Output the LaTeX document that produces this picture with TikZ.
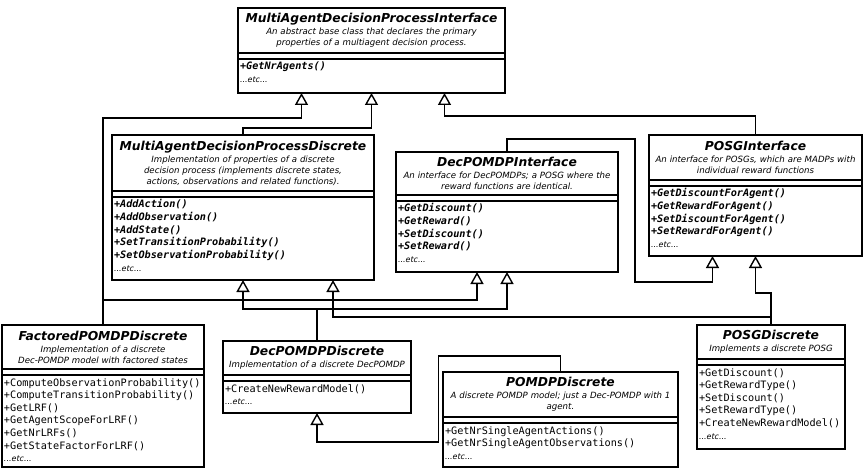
\documentclass[tikz,border=0pt]{standalone}
\usepackage{fontspec}
\setmainfont{DejaVu Sans}[ItalicFont={DejaVu Sans Oblique},BoldFont={DejaVu Sans Bold},BoldItalicFont={DejaVu Sans Bold Oblique}]
\setmonofont{DejaVu Sans Mono}[ItalicFont={DejaVu Sans Mono Oblique},BoldFont={DejaVu Sans Mono Bold},BoldItalicFont={DejaVu Sans Mono Bold Oblique}]
\usetikzlibrary{positioning,arrows.meta}
\newcommand{\clsname}[1]{{\bfseries\fontsize{12.3}{14}\selectfont #1}}
\newcommand{\etcline}{{\rmfamily\mdseries\itshape\fontsize{8}{12.6}\selectfont ...etc...}}
\begin{document}
\begin{tikzpicture}[x=1pt, y=-1pt,
    ctitle/.style={draw, line width=2pt, minimum width=#1, text width=#1-4pt, inner xsep=2pt, inner ysep=2pt, outer sep=0pt, align=center, font=\itshape\fontsize{8.6}{11}\selectfont},
    cattr/.style={draw, line width=2pt, minimum width=#1, minimum height=6pt, inner sep=0pt, outer sep=0pt},
    cmeth/.style={draw, line width=2pt, minimum width=#1, text width=#1-4pt, inner xsep=2pt, inner ysep=3pt, outer sep=0pt, align=left, text height=8pt, font=\ttfamily\fontsize{10.2}{12.6}\selectfont},
    cabstr/.style={cmeth=#1, font=\ttfamily\bfseries\itshape\fontsize{10.2}{12.6}\selectfont},
    isa/.style={line width=1.4pt, -{Triangle[length=12pt, width=13pt, fill=white]}}]
    \useasboundingbox (0,0) rectangle (864,470);
    % Root interface
    \node[ctitle=267pt, minimum height=45pt, anchor=north west] (madpi) at (238,8)
      {\clsname{MultiAgentDecisionProcessInterface}\\[1pt]
       An abstract base class that declares the primary\\
       properties of a multiagent decision process.};
    \node[cattr=267pt, below=0pt of madpi] (madpi-a) {};
    \node[cabstr=267pt, text depth=20pt, below=0pt of madpi-a] (madpi-m)
      {+GetNrAgents()\\ \etcline};
    % Second row
    \node[ctitle=262pt, minimum height=56pt, anchor=north west] (madpd) at (112,135)
      {\clsname{MultiAgentDecisionProcessDiscrete}\\[1pt]
       Implementation of properties of a discrete\\
       decision process (implements discrete states,\\
       actions, observations and related functions).};
    \node[cattr=262pt, below=0pt of madpd] (madpd-a) {};
    \node[cabstr=262pt, text depth=69pt, below=0pt of madpd-a] (madpd-m)
      {+AddAction()\\ +AddObservation()\\ +AddState()\\ +SetTransitionProbability()\\
       +SetObservationProbability()\\ \etcline};
    \node[ctitle=222pt, minimum height=43pt, anchor=north west] (decpi) at (396,152)
      {\clsname{DecPOMDPInterface}\\[1pt]
       An interface for DecPOMDPs; a POSG where the\\
       reward functions are identical.};
    \node[cattr=222pt, below=0pt of decpi] (decpi-a) {};
    \node[cabstr=222pt, text depth=57pt, below=0pt of decpi-a] (decpi-m)
      {+GetDiscount()\\ +GetReward()\\ +SetDiscount()\\ +SetReward()\\ \etcline};
    \node[ctitle=213pt, minimum height=45pt, anchor=north west] (posgi) at (649,135)
      {\clsname{POSGInterface}\\[1pt]
       An interface for POSGs, which are MADPs with\\
       individual reward functions};
    \node[cattr=213pt, below=0pt of posgi] (posgi-a) {};
    \node[cabstr=213pt, text depth=56pt, below=0pt of posgi-a] (posgi-m)
      {+GetDiscountForAgent()\\ +GetRewardForAgent()\\ +SetDiscountForAgent()\\
       +SetRewardForAgent()\\ \etcline};
    % Concrete classes
    \node[ctitle=202pt, minimum height=44pt, anchor=north west] (fpomdpd) at (2,325)
      {\clsname{FactoredPOMDPDiscrete}\\[1pt]
       Implementation of a discrete\\
       Dec-POMDP model with factored states};
    \node[cattr=202pt, below=0pt of fpomdpd] (fpomdpd-a) {};
    \node[cmeth=202pt, text depth=78pt, below=0pt of fpomdpd-a] (fpomdpd-m)
      {+ComputeObservationProbability()\\ +ComputeTransitionProbability()\\ +GetLRF()\\
       +GetAgentScopeForLRF()\\ +GetNrLRFs()\\ +GetStateFactorForLRF()\\ \etcline};
    \node[ctitle=188pt, minimum height=34pt, anchor=north west] (decpd) at (223,341)
      {\clsname{DecPOMDPDiscrete}\\[1pt]
       Implementation of a discrete DecPOMDP};
    \node[cattr=188pt, below=0pt of decpd] (decpd-a) {};
    \node[cmeth=188pt, text depth=18pt, below=0pt of decpd-a] (decpd-m)
      {+CreateNewRewardModel()\\ \etcline};
    \node[ctitle=235pt, minimum height=45pt, anchor=north west] (pomdpd) at (443,372)
      {\clsname{POMDPDiscrete}\\[1pt]
       A discrete POMDP model; just a Dec-POMDP with 1\\
       agent.};
    \node[cattr=235pt, below=0pt of pomdpd] (pomdpd-a) {};
    \node[cmeth=235pt, text depth=30pt, below=0pt of pomdpd-a] (pomdpd-m)
      {+GetNrSingleAgentActions()\\ +GetNrSingleAgentObservations()\\ \etcline};
    \node[ctitle=148pt, minimum height=34pt, anchor=north west] (posgd) at (697,325)
      {\clsname{POSGDiscrete}\\[1pt]
       Implements a discrete POSG};
    \node[cattr=148pt, below=0pt of posgd] (posgd-a) {};
    \node[cmeth=148pt, text depth=70pt, below=0pt of posgd-a] (posgd-m)
      {+GetDiscount()\\ +GetRewardType()\\ +SetDiscount()\\ +SetRewardType()\\
       +CreateNewRewardModel()\\ \etcline};
    % Generalisations towards the root
    \draw[isa] (fpomdpd.north) -- ++(0,-207) -| ([xshift=-70pt]madpi-m.south);
    \draw[isa] (madpd.north) -- ++(0,-7) -| (madpi-m.south);
    \draw[isa] (posgi.north) -- ++(0,-19) -| ([xshift=73pt]madpi-m.south);
    % DecPOMDPInterface is a POSGInterface
    \draw[isa] (decpi.north) -- ++(0,-13) -| ++(128,143) -| ([xshift=-43pt]posgi-m.south);
    % Generalisations of the concrete classes
    \draw[isa] (fpomdpd.north) -- ++(0,-25) -| ([xshift=-30pt]decpi-m.south);
    \draw[isa] (decpd.north) -- ++(0,-32) -| (madpd-m.south);
    \draw[isa] (decpd.north) -- ++(0,-32) -| (decpi-m.south);
    \draw[isa] (posgd.north) -- ++(0,-8) -| ([xshift=90pt]madpd-m.south);
    \draw[isa] (posgd.north) -- ++(0,-32) -| (posgi-m.south);
    \draw[isa] (pomdpd.north) -- ++(0,-16) -| ++(-122,86) -| (decpd-m.south);
  \end{tikzpicture}
\end{document}
